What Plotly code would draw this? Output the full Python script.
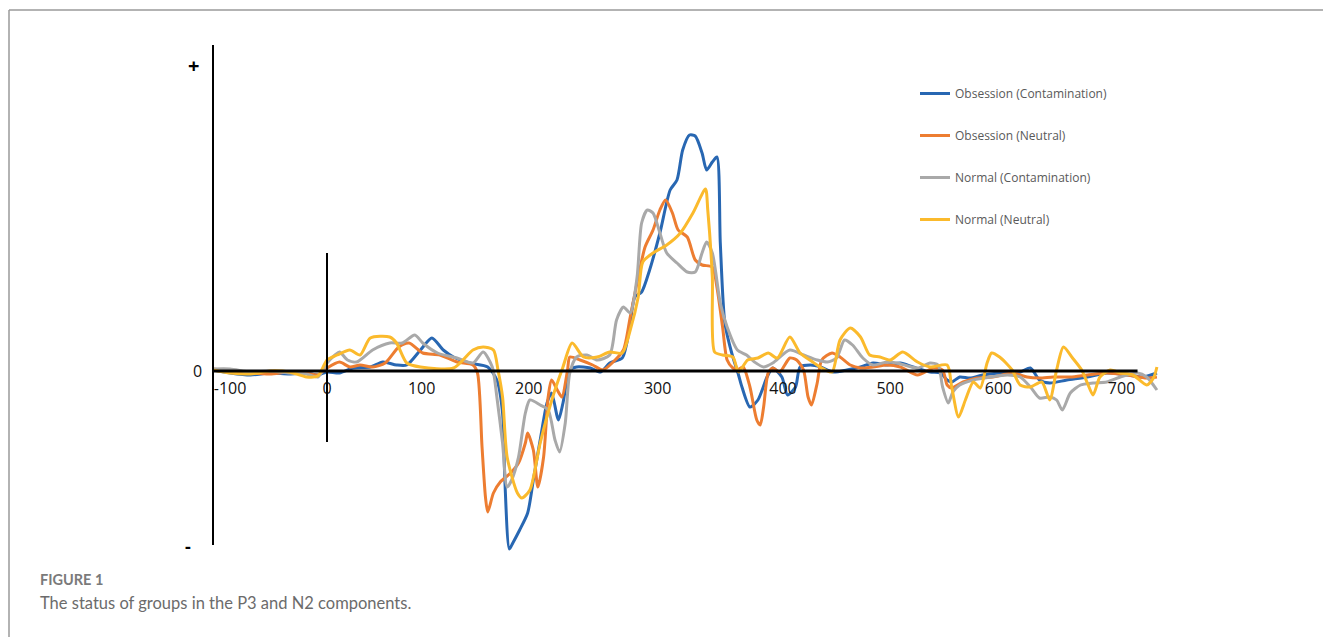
import plotly.graph_objects as go

# ---------------- data (time in ms, amplitude in µV) ----------------
series_names = ["Obsession (Contamination)", "Obsession (Neutral)",
                "Normal (Contamination)", "Normal (Neutral)"]

pre_t = [-100, -85, -67, -50, -33, -18, -8, 0]

obs_cont_t = pre_t + [11, 23, 38, 49, 61, 70, 82, 92, 102, 111, 125, 141, 149, 154, 156, 160, 163, 169, 176,
                      181, 187, 193, 197, 203, 207, 213, 219, 231, 240, 248, 259, 263, 266, 270, 276, 283, 292,
                      301, 307, 312, 318, 323, 329, 333, 338, 342, 345, 349, 355, 361, 364, 371, 378, 386, 391,
                      399, 404, 411, 415, 424, 433, 444, 456, 468, 479, 491, 503, 514, 529, 538, 544, 548, 555,
                      564, 575, 590, 608, 617, 625, 634, 649, 667, 684, 702, 716, 728]
obs_cont_v = [0.05, -0.1, -0.2, -0.1, -0.15, -0.1, -0.2, -0.05,
              -0.1, 0.15, 0.2, 0.45, 0.3, 0.3, 1.05, 1.65, 1.05, 0.7, 0.4, 0.2, -0.45, -2.1, -5.45, -8.9, -8.6,
              -7.95, -7.1, -5.45, -3.45, -1.6, -1.1, -2.45, -1.6, 0.05, 0.2, 0.15, -0.05, 0.4, 0.65, 1.4, 2.4,
              3.7, 3.95, 5.05, 6.9, 9.05, 9.55, 11.05, 11.8, 11.75, 10.9, 10.05, 10.45, 10.7, 6.4, 2.4, 0.9,
              -0.2, -0.8, -1.8, -1.45, -0.3, 0.15, -0.3, -1.2, -0.8, 0.2, 0.3, 0.2, -0.05, 0.05, 0.2, 0.4, 0.3,
              0.4, 0.2, -0.05, -0.1, -0.45, -0.55, -0.3, -0.35, -0.2, -0.1, -0.05, 0.15, -0.45, -0.6, -0.45,
              -0.3, -0.1, -0.2, -0.3, -0.1]

obs_neu_t = pre_t + [11, 20, 29, 40, 51, 63, 72, 84, 99, 114, 128, 132, 136, 139, 141, 146, 152, 161, 168, 174,
                     176, 181, 185, 190, 194, 197, 202, 206, 211, 213, 222, 233, 242, 251, 260, 266, 273, 279,
                     286, 292, 297, 303, 308, 316, 323, 329, 338, 342, 347, 351, 356, 360, 365, 371, 377, 380,
                     383, 387, 391, 397, 406, 412, 418, 422, 425, 430, 434, 443, 450, 459, 468, 479, 491, 503,
                     518, 532, 540, 544, 548, 558, 570, 584, 602, 614, 625, 637, 652, 667, 684, 702, 719, 728]
obs_neu_v = [0.1, 0.0, -0.1, -0.15, -0.05, -0.1, -0.2, 0.15,
             0.45, 0.2, 0.3, 0.2, 0.4, 1.2, 1.4, 0.9, 0.8, 0.45, 0.3, -0.1, -3.8, -6.3, -7.05, -6.1, -5.55,
             -5.1, -4.6, -3.6, -3.1, -3.95, -5.8, -4.3, -1.3, -0.45, -0.95, -1.3, 0.05, 0.7, 0.55, 0.3, 0.05,
             0.45, 1.05, 2.7, 4.7, 6.2, 7.05, 8.05, 8.55, 7.9, 7.05, 6.7, 5.55, 5.3, 5.2, 4.2, 2.2, 0.55, 0.15,
             0.05, 0.2, -0.8, -2.45, -2.7, -1.8, -0.1, 0.15, -0.05, 0.65, 0.55, 0.05, -1.3, -1.7, -0.6, 0.55,
             0.9, 0.7, 0.3, 0.15, 0.2, 0.3, 0.2, -0.2, 0.15, 0.05, -0.7, -0.85, -0.55, -0.35, -0.3, -0.1,
             -0.3, -0.35, -0.3, -0.3, -0.2, -0.1, -0.2, -0.35, -0.3]

nor_cont_t = pre_t + [7, 11, 18, 26, 40, 55, 66, 77, 84, 97, 114, 128, 137, 145, 149, 154, 158, 162, 168, 174,
                      178, 187, 194, 200, 204, 209, 213, 219, 228, 237, 248, 254, 260, 266, 272, 276, 281, 286,
                      292, 298, 307, 316, 323, 329, 333, 338, 345, 351, 360, 368, 375, 383, 391, 406, 418, 430,
                      439, 447, 454, 461, 470, 479, 491, 500, 518, 529, 536, 540, 545, 549, 555, 567, 582, 597,
                      608, 617, 625, 634, 640, 645, 652, 661, 672, 684, 696, 711, 719, 728]
nor_cont_v = [0.1, 0.1, -0.05, 0.0, -0.1, -0.15, -0.3, 0.4,
              0.8, 0.95, 0.55, 0.45, 1.05, 1.4, 1.4, 1.8, 1.4, 0.9, 0.65, 0.4, 0.95, 0.2, -1.3, -3.6, -5.8,
              -5.45, -4.3, -2.1, -1.45, -1.7, -1.95, -3.45, -4.05, -2.6, -0.1, 0.7, 0.8, 0.55, 0.8, 2.55, 3.2,
              2.9, 4.7, 7.4, 8.05, 7.9, 6.9, 5.9, 5.4, 4.95, 4.95, 5.9, 6.45, 5.9, 3.4, 2.2, 1.05, 0.8, 0.45,
              0.2, 0.4, 1.05, 0.8, 0.55, 0.45, 0.65, 1.55, 1.3, 0.65, 0.3, 0.45, 0.4, 0.15, 0.4, 0.3, -0.8,
              -1.6, -1.05, -0.7, -0.45, -0.3, -0.2, -0.3, -0.8, -1.35, -1.3, -1.45, -1.95, -1.1, -0.7, -0.6,
              -0.55, -0.3, -0.1, -0.3, -0.95]

nor_neu_t = pre_t + [9, 20, 29, 38, 55, 61, 70, 82, 111, 128, 137, 146, 150, 154, 158, 167, 171, 178, 187, 198,
                     207, 215, 225, 237, 248, 259, 266, 273, 277, 286, 298, 310, 321, 332, 334, 338, 340, 347,
                     356, 361, 369, 378, 387, 395, 406, 415, 426, 434, 443, 450, 459, 468, 476, 485, 494, 505,
                     518, 529, 544, 548, 554, 560, 567, 573, 579, 583, 590, 601, 608, 617, 627, 634, 640, 646,
                     654, 662, 667, 672, 678, 687, 696, 707, 719, 725, 728]
nor_neu_v = [0.05, -0.1, -0.15, 0.0, -0.05, -0.3, -0.25, 0.55,
             0.8, 1.05, 0.8, 1.65, 1.7, 1.4, 0.4, 0.2, 0.15, 1.05, 1.2, 1.05, 0.05, -1.3, -4.3, -6.1, -6.35,
             -5.95, -3.6, -1.3, 0.2, 1.4, 0.7, 0.7, 0.95, 0.9, 2.05, 3.7, 5.45, 5.9, 6.3, 6.9, 7.9, 9.1, 8.05,
             4.7, 0.95, 0.8, 0.7, -0.05, 0.55, 0.65, 0.9, 0.65, 1.7, 0.9, 0.45, 0.15, -0.05, 1.55, 2.15, 1.7,
             0.8, 0.7, 0.55, 0.95, 0.45, 0.2, 0.3, -0.8, -2.3, -1.45, -0.55, -0.85, 0.4, 0.9, 0.7, 0.05, -0.7,
             -0.8, -0.55, -1.45, 0.05, 1.2, 0.65, 0.05, -0.6, -1.2, -0.3, 0.05, -0.1, -0.2, -0.7, -0.35, 0.2]

tick_labels = ["-100", "0", "100", "200", "300", "400", "500", "600", "700"]
tick_label_pos = [-85, 0, 83, 177, 290, 400, 494, 589, 697]

colors = ["#2867B2", "#ED7D31", "#A9A9A9", "#FBBA2C"]

# ---------------- figure ----------------
fig = go.Figure()
all_t = [obs_cont_t, obs_neu_t, nor_cont_t, nor_neu_t]
all_v = [obs_cont_v, obs_neu_v, nor_cont_v, nor_neu_v]
for i, (name, t, v) in enumerate(zip(series_names, all_t, all_v)):
    fig.add_trace(go.Scatter(
        x=t, y=v, name=name, mode="lines", legendgroup=f"g{i}",
        line=dict(color=colors[i], width=3, shape="spline", smoothing=0.7)))

# the page body adds an 8px margin around the figure
OFF = 8
PAGE_W, PAGE_H = 1331, 637
W, H = PAGE_W - OFF, PAGE_H - OFF
# plot area in page pixels
PA_L, PA_R, PA_T, PA_B = 200, 1160, 40, 560
L, R, T, B = PA_L - OFF, W - (PA_R - OFF), PA_T - OFF, H - (PA_B - OFF)
pw, ph = PA_R - PA_L, PA_B - PA_T
px_per_ms = 1.14
x0 = -100 - 13 / px_per_ms
x1 = x0 + pw / px_per_ms
px_per_uv = 20.0
ZERO_Y = 371
y_top = (ZERO_Y - PA_T) / px_per_uv
y_bot = y_top - ph / px_per_uv


def paper_x(px):
    return (px - PA_L) / pw


def paper_y(py):
    return (PA_B - py) / ph


fig.update_layout(
    width=W, height=H,
    margin=dict(l=L, r=R, t=T, b=B, autoexpand=False),
    paper_bgcolor="white", plot_bgcolor="white",
    showlegend=True,
    legend=dict(x=paper_x(915), y=paper_y(79), xanchor="left", yanchor="top",
                font=dict(family="Open Sans", size=12, color="#595959"),
                tracegroupgap=23, itemwidth=30, bgcolor="rgba(0,0,0,0)"),
    xaxis=dict(range=[x0, x1], showgrid=False, zeroline=False, showline=False,
               tickmode="array", tickvals=tick_label_pos, ticktext=tick_labels,
               ticks="", ticklabelstandoff=6,
               tickfont=dict(family="Open Sans", size=16, color="#111111"),
               anchor="free", position=paper_y(ZERO_Y), fixedrange=True),
    yaxis=dict(range=[y_bot, y_top], visible=False, fixedrange=True),
)

# axis lines
fig.add_shape(type="line", xref="x", yref="y", x0=-100, x1=-100, y0=-8.7, y1=16.3,
              line=dict(color="black", width=2))
fig.add_shape(type="line", xref="x", yref="y", x0=-100, x1=711, y0=0, y1=0,
              line=dict(color="black", width=3))
fig.add_shape(type="line", xref="x", yref="y", x0=0, x1=0, y0=-3.55, y1=5.9,
              line=dict(color="black", width=2))

# outer frame (top + left)
fig.add_shape(type="line", xref="paper", yref="paper", x0=paper_x(9), x1=paper_x(1331),
              y0=paper_y(10), y1=paper_y(10), line=dict(color="#9a9a9a", width=1.5))
fig.add_shape(type="line", xref="paper", yref="paper", x0=paper_x(9), x1=paper_x(9),
              y0=paper_y(10), y1=paper_y(640), line=dict(color="#9a9a9a", width=1.5))

# y-axis symbols
fig.add_annotation(text="<b>+</b>", xref="paper", yref="paper", x=paper_x(193), y=paper_y(65),
                   xanchor="center", yanchor="middle",
                   showarrow=False, font=dict(family="Open Sans", size=20, color="black"))
fig.add_annotation(text="<b>-</b>", xref="paper", yref="paper", x=paper_x(188), y=paper_y(546),
                   xanchor="center", yanchor="middle",
                   showarrow=False, font=dict(family="Open Sans", size=18, color="black"))
fig.add_annotation(text="0", xref="paper", yref="y", x=paper_x(204), y=0, xanchor="right",
                   yanchor="middle",
                   showarrow=False, font=dict(family="Open Sans", size=16, color="#111111"))

# caption
fig.add_annotation(text="<b>FIGURE 1</b>", xref="paper", yref="paper", x=paper_x(38), y=paper_y(579),
                   xanchor="left", yanchor="middle", showarrow=False,
                   font=dict(family="Lato", size=14.5, color="#7a7a7a"))
fig.add_annotation(text="The status of groups in the P3 and N2 components.", xref="paper", yref="paper",
                   x=paper_x(38), y=paper_y(603), xanchor="left", yanchor="middle", showarrow=False,
                   font=dict(family="Lato", size=16.5, color="#6b6b6b"))

fig.write_html("out.html")
